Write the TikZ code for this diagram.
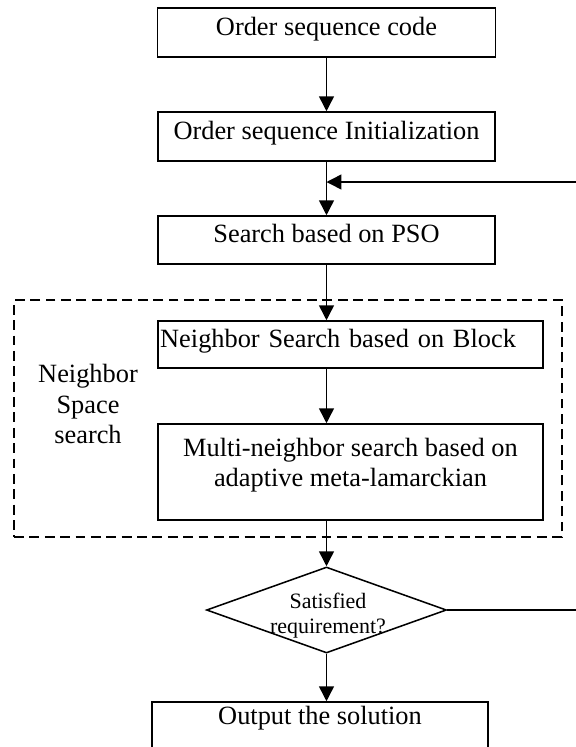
\documentclass[tikz,border=0pt]{standalone}
\usepackage{fontspec}
\setmainfont{Liberation Serif}
\usetikzlibrary{shapes.geometric,arrows.meta}

\begin{document}
\begin{tikzpicture}[every node/.style={font=\fontsize{12}{13.8}\selectfont}, >={Triangle[length=6.8pt,width=6.8pt]},
	box/.style={draw, rectangle, line width=0.7pt, text height=7.2pt, text depth=4.8pt},
	decision/.style={draw, diamond, line width=0.7pt, inner sep=0pt, minimum width=3.84cm, minimum height=1.376cm},
	frame/.style={draw, rectangle, line width=0.9pt, dash pattern=on 4.5pt off 2.5pt},
	flow/.style={->, line width=0.7pt}]
	\clip (0,0) rectangle (9.216,-11.952);
	
	\node[box, minimum width=5.408cm, minimum height=0.784cm] (code) at (5.224,-0.52) {Order sequence code};
	\node[box, minimum width=5.392cm, minimum height=0.784cm] (init) at (5.224,-2.184) {Order sequence Initialization};
	\node[box, minimum width=5.392cm, minimum height=0.768cm] (pso) at (5.224,-3.84) {Search based on PSO};
	
	\node[frame, minimum width=8.768cm, minimum height=3.792cm] (nss) at (4.608,-6.696) {};
	\node[align=center] (nsslabel) at (1.408,-6.464) {Neighbor\\Space\\search};
	
	\node[box, text width=6.16cm-2pt, inner xsep=1pt, align=left, minimum height=0.752cm] (blk) at (5.608,-5.512) {Neighbor Search based on Block};
	\node[box, align=center, text height=21.8pt, text depth=8.6pt, minimum width=6.16cm, minimum height=1.536cm] (multi) at (5.608,-7.552) {Multi-neighbor search based on\\adaptive meta-lamarckian};
	
	\node[decision] (dec) at (5.224,-9.76) {};
	\node[font=\fontsize{10}{11.5}\selectfont, align=center] (sattext) at (5.248,-9.848) {Satisfied\\requirement?};
	
	\node[box, text depth=26.9pt, inner ysep=2pt, minimum width=5.384cm, minimum height=1.408cm] (out) at (5.12,-11.936) {Output the solution};
	
	\coordinate (join) at (5.224,-2.912);
	
	\draw[flow] (code) -- (init);
	\draw[flow] (init) -- (pso);
	\draw[flow] (dec.east) -- ++(2.08,0) |- (join);
	\draw[flow] (pso) -- (pso.south |- blk.north);
	\draw[flow] (pso.south |- blk.south) -- (pso.south |- multi.north);
	\draw[flow] (pso.south |- multi.south) -- (dec.north);
	\draw[flow] (dec) -- (dec.south |- out.north);
\end{tikzpicture}
\end{document}
